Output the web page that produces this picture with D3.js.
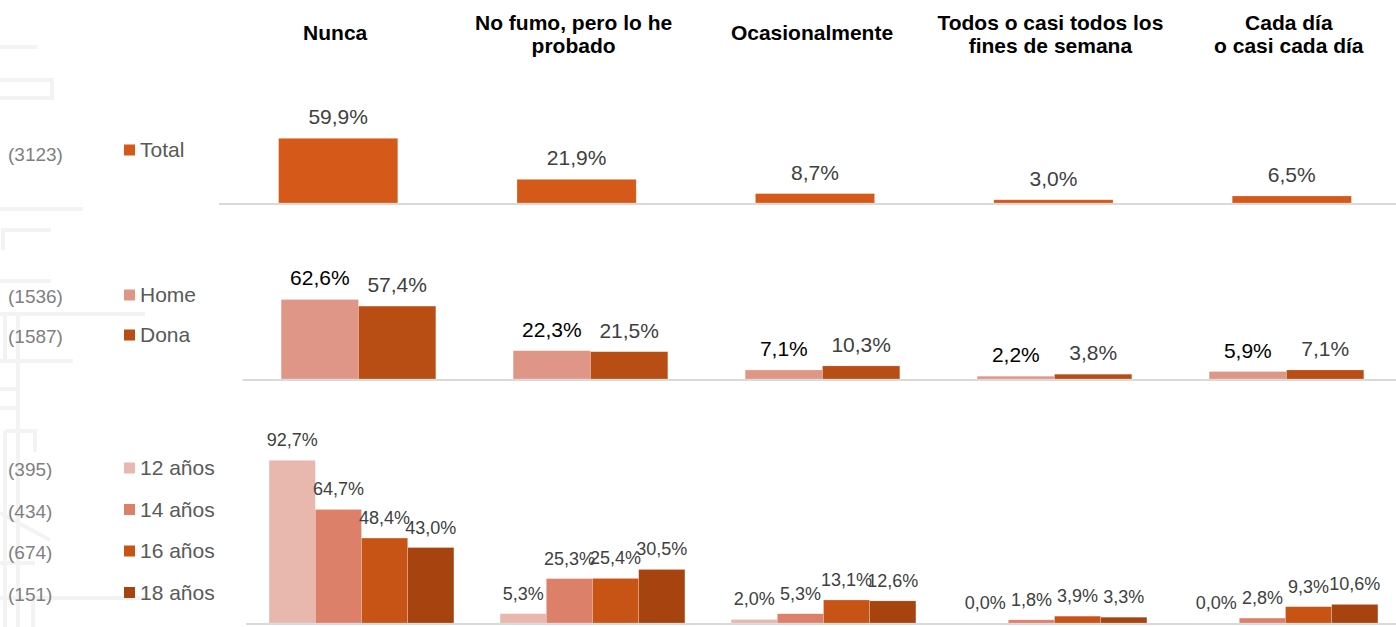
<!DOCTYPE html>
<html>
<head>
<meta charset="utf-8">
<script src="https://cdn.jsdelivr.net/npm/d3@7"></script>
<style>
  html, body { margin: 0; padding: 0; background: #fff; }
  svg { display: block; font-family: Arial, "Liberation Sans", sans-serif; }
</style>
</head>
<body>
<svg id="chart" width="1396" height="627"></svg>
<script>
// ---------- DATA ----------
const categories = ["Nunca", "No fumo, pero lo he probado", "Ocasionalmente",
  "Todos o casi todos los fines de semana", "Cada día o casi cada día"];
const categoryTitleLines = [["Nunca"], ["No fumo, pero lo he", "probado"], ["Ocasionalmente"],
  ["Todos o casi todos los", "fines de semana"], ["Cada día", "o casi cada día"]];

const totalSeries = ["Total"];
const totalCounts = ["(3123)"];
const totalValues = [59.9, 21.9, 8.7, 3.0, 6.5];

const sexSeries = ["Home", "Dona"];
const sexCounts = ["(1536)", "(1587)"];
const homeValues = [62.6, 22.3, 7.1, 2.2, 5.9];
const donaValues = [57.4, 21.5, 10.3, 3.8, 7.1];

const ageSeries = ["12 años", "14 años", "16 años", "18 años"];
const ageCounts = ["(395)", "(434)", "(674)", "(151)"];
const age12Values = [92.7, 5.3, 2.0, 0.0, 0.0];
const age14Values = [64.7, 25.3, 5.3, 1.8, 2.8];
const age16Values = [48.4, 25.4, 13.1, 3.9, 9.3];
const age18Values = [43.0, 30.5, 12.6, 3.3, 10.6];

// ---------- STYLE / LAYOUT ----------
const W = 1396, H = 627;
const svg = d3.select("#chart");
const fmt = v => d3.format(".1f")(v).replace(".", ",") + "%";

// faint decorative background watermark (not data)
const watermarkPath =
  "M0,47H37 M0,80H52V98H0 M0,209H83 M51,230H3V250 M0,281H51 M0,314H145 " +
  "M5,314V360 M18,314V627 M0,361H73 M0,389H18 M0,408H18 M5,431H35V452 M5,431V627 " +
  "M0,513L50,540 M0,563H35 M0,598H145 M33,598V627";
svg.append("path").attr("d", watermarkPath).attr("fill", "none")
  .attr("stroke", "#F3F3F3").attr("stroke-width", 4);

const panels = [
  { series: totalSeries, counts: totalCounts, values: [totalValues],
    colors: ["#D55A19"], labelColors: ["#404040"],
    x0: 219, x1: 1411, base: 203, pxPerUnit: 1.08, pad: 0.5, labelSize: 21,
    legendY: 150, legendStep: 40 },
  { series: sexSeries, counts: sexCounts, values: [homeValues, donaValues],
    colors: ["#E09687", "#B94E14"], labelColors: ["#000000", "#404040"],
    x0: 242.5, x1: 1402.5, base: 379, pxPerUnit: 1.27, pad: 0.5, labelSize: 21,
    legendY: 295, legendStep: 40 },
  { series: ageSeries, counts: ageCounts, values: [age12Values, age14Values, age16Values, age18Values],
    colors: ["#E8B7AD", "#DD806A", "#C75315", "#A6430F"], labelColors: ["#404040", "#404040", "#404040", "#404040"],
    x0: 246, x1: 1401, base: 623, pxPerUnit: 1.755, pad: 0.5, labelSize: 18,
    legendY: 468, legendStep: 41.5 }
];

// ---------- HEADERS ----------
const headerX = d3.scaleBand().domain(categories).range([panels[0].x0, panels[0].x1]).padding(0);
const heads = svg.append("g").selectAll("text").data(categories).join("text")
  .attr("x", d => headerX(d) + headerX.bandwidth() / 2 - 3)
  .attr("text-anchor", "middle")
  .attr("font-size", 21).attr("font-weight", "bold").attr("fill", "#000");
heads.each(function(d, i) {
  const lines = categoryTitleLines[i];
  const t = d3.select(this);
  const y0 = lines.length === 1 ? 40 : 29.5;
  lines.forEach((ln, j) => t.append("tspan").attr("x", t.attr("x")).attr("y", y0 + j * 23).text(ln));
});

// ---------- PANELS ----------
panels.forEach(p => {
  const g = svg.append("g");
  const x = d3.scaleBand().domain(categories).range([p.x0, p.x1]).padding(0);
  const xs = d3.scaleBand().domain(p.series).range([0, x.bandwidth()]).paddingInner(0).paddingOuter(p.pad);
  const y = d3.scaleLinear().domain([0, 100]).range([p.base, p.base - 100 * p.pxPerUnit]);

  // baseline
  g.append("line").attr("x1", p.x0).attr("x2", W).attr("y1", p.base + 1).attr("y2", p.base + 1)
    .attr("stroke", "#D9D9D9").attr("stroke-width", 2);

  const rows = [];
  p.series.forEach((s, si) => p.values[si].forEach((v, ci) =>
    rows.push({ s, si, c: categories[ci], v })));

  g.selectAll("rect").data(rows).join("rect")
    .attr("x", d => x(d.c) + xs(d.s))
    .attr("width", xs.bandwidth())
    .attr("y", d => y(d.v))
    .attr("height", d => y(0) - y(d.v))
    .attr("fill", d => p.colors[d.si])
    .attr("stroke", "#ffffff").attr("stroke-opacity", 0.35).attr("stroke-width", 0.6);

  g.selectAll("text.lbl").data(rows).join("text").attr("class", "lbl")
    .attr("x", d => x(d.c) + xs(d.s) + xs.bandwidth() / 2)
    .attr("y", d => y(d.v) - 14)
    .attr("text-anchor", "middle")
    .attr("font-size", p.labelSize)
    .attr("fill", d => p.labelColors[d.si])
    .text(d => fmt(d.v));

  // legend
  const ly = d3.scaleLinear().domain([0, 1]).range([p.legendY, p.legendY + p.legendStep]);
  const lg = g.append("g").selectAll("g").data(p.series).join("g")
    .attr("transform", (d, i) => `translate(0,${ly(i)})`);
  lg.append("rect").attr("x", 124).attr("y", -5.5).attr("width", 11).attr("height", 11)
    .attr("fill", (d, i) => p.colors[i]);
  lg.append("text").attr("x", 140).attr("y", 7).attr("font-size", 21).attr("fill", "#595959").text(d => d);
  lg.append("text").attr("x", 8).attr("y", (d, i) => (p.series.length === 1 ? 11 : 8))
    .attr("font-size", 19).attr("fill", "#7F7F7F").text((d, i) => p.counts[i]);
});
</script>
</body>
</html>
